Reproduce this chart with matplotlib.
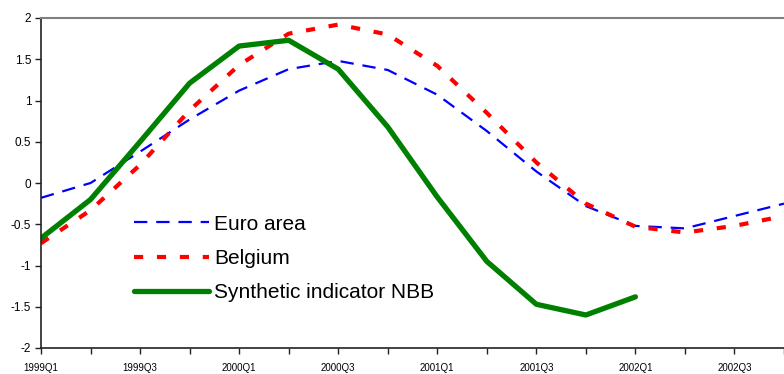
import matplotlib.pyplot as plt
import numpy as np

plt.rcParams['font.family'] = ['Liberation Sans', 'DejaVu Sans']

quarters = ['1999Q1', '1999Q2', '1999Q3', '1999Q4',
            '2000Q1', '2000Q2', '2000Q3', '2000Q4',
            '2001Q1', '2001Q2', '2001Q3', '2001Q4',
            '2002Q1', '2002Q2', '2002Q3', '2002Q4']

euro_area = [-0.18, 0.0, 0.38, 0.77, 1.12, 1.38, 1.48, 1.37,
             1.07, 0.63, 0.14, -0.28, -0.52, -0.55, -0.40, -0.25]
belgium = [-0.73, -0.33, 0.22, 0.88, 1.43, 1.81, 1.92, 1.80,
           1.42, 0.85, 0.25, -0.25, -0.53, -0.60, -0.52, -0.40]
synthetic_nbb = [-0.67, -0.20, 0.50, 1.21, 1.66, 1.73, 1.38, 0.68,
                 -0.17, -0.95, -1.47, -1.60, -1.38]

fig = plt.figure(figsize=(7.84, 3.74), dpi=100)
ax = fig.add_axes([41 / 784, 26 / 374, 1 - 41 / 784, 330 / 374])

x = np.arange(len(quarters))
ax.plot(x, euro_area, color='#0000ff', lw=1.6, dashes=(6, 4),
        label='Euro area')
ax.plot(x, belgium, color='#ff0000', lw=3.0, dashes=(2.2, 3.3),
        label='Belgium')
ax.plot(x[:len(synthetic_nbb)], synthetic_nbb, color='#008000', lw=3.8,
        solid_capstyle='round', label='Synthetic indicator NBB')

ax.set_xlim(0, 743 / 50.4)
ax.set_ylim(-2, 2)
ax.set_yticks(np.arange(-2, 2.01, 0.5))
ax.set_yticklabels(['-2', '-1.5', '-1', '-0.5', '0', '0.5', '1', '1.5', '2'],
                   fontsize=8.5)
ax.set_xticks(x)
ax.set_xticklabels([q if i % 2 == 0 else '' for i, q in enumerate(quarters)],
                   fontsize=7)
ax.tick_params(axis='both', direction='out', length=4, width=1, color='#222222')
ax.tick_params(axis='x', pad=7)
ax.tick_params(axis='y', pad=3)

ax.spines['right'].set_visible(False)
ax.spines['top'].set_color('#808080')
ax.spines['top'].set_linewidth(1.5)
for side in ('left', 'bottom'):
    ax.spines[side].set_color('#222222')
    ax.spines[side].set_linewidth(1.2)

ax.legend(loc='upper left', bbox_to_anchor=(0.111, 0.436), frameon=False,
          fontsize=15, handlelength=3.6, handletextpad=0.25,
          labelspacing=0.74, borderpad=0)

fig.savefig('out.png', dpi=100)
